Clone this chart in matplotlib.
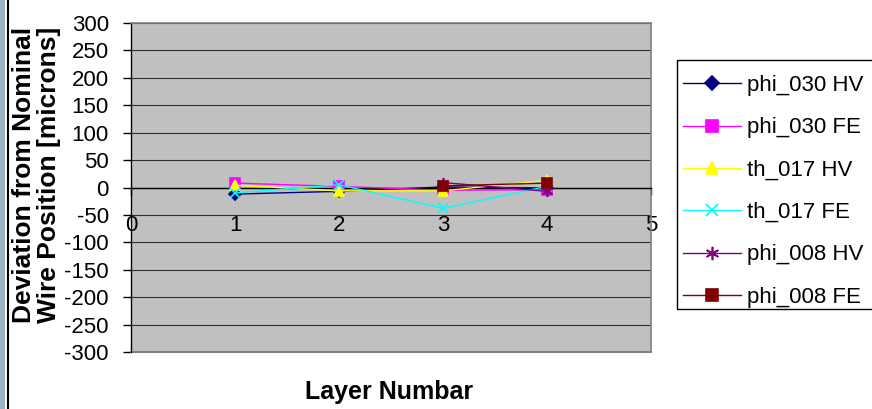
import numpy as np
import matplotlib
matplotlib.use("Agg")
import matplotlib.pyplot as plt
from matplotlib.patches import Rectangle
from matplotlib.lines import Line2D

plt.rcParams['font.family'] = ['Liberation Sans', 'DejaVu Sans']

# Layer numbers and wire deviations (microns)
layers = [1, 2, 3, 4]
phi_030_hv = [-12, -7, 1, -1]
phi_030_fe = [8, 2, -5, -4]
th_017_hv = [4, -6, -6, 13]
th_017_fe = [-10, 5, -38, 2]
phi_008_hv = [np.nan, np.nan, 9, -7]
phi_008_fe = [np.nan, np.nan, 3, 8]

series_names = ["phi_030 HV", "phi_030 FE", "th_017 HV",
                "th_017 FE", "phi_008 HV", "phi_008 FE"]
series_values = [phi_030_hv, phi_030_fe, th_017_hv,
                 th_017_fe, phi_008_hv, phi_008_fe]
series_colors = ["#000080", "#FF00FF", "#FFFF00",
                 "#00FFFF", "#800080", "#800000"]
series_markers = ["D", "s", "^", "x", (6, 2, 0), "s"]
series_msize = [6, 7, 7, 7, 8, 7]

x_ticks = [0, 1, 2, 3, 4, 5]
y_ticks = list(range(-300, 301, 50))

W, H = 872, 409
fig = plt.figure(figsize=(W / 100, H / 100), dpi=100)
fig.patch.set_facecolor("white")

ax = fig.add_axes([131 / W, 1 - 352.3 / H, 520 / W, 329.6 / H])
ax.set_facecolor("#C0C0C0")
ax.set_xlim(0, 5)
ax.set_ylim(-300, 300)

for yv in y_ticks:
    ax.axhline(yv, color="#303030", lw=0.8, zorder=1)

for name, vals, col, mk, ms in zip(series_names, series_values, series_colors,
                                   series_markers, series_msize):
    ax.plot(layers, vals, color=col, lw=1.0, marker=mk, markersize=ms,
            markerfacecolor=col, markeredgecolor=col, markeredgewidth=1.2,
            label=name, zorder=3)

# Plot-area frame and axes
for side in ["top", "right"]:
    ax.spines[side].set_color("#808080")
    ax.spines[side].set_linewidth(1.2)
ax.spines["left"].set_color("black")
ax.spines["left"].set_linewidth(1.0)
ax.spines["bottom"].set_position(("data", 0))
ax.spines["bottom"].set_color("black")
ax.spines["bottom"].set_linewidth(1.0)
ax.axhline(-300, color="#808080", lw=1.5, clip_on=False, zorder=2)

ax.set_xticks(x_ticks)
ax.set_xticklabels([str(v) for v in x_ticks])
ax.set_yticks(y_ticks)
ax.set_yticklabels([str(v) for v in y_ticks])
ax.tick_params(axis="x", direction="out", length=5, width=1, pad=15,
               labelsize=16, colors="black")
ax.tick_params(axis="y", direction="out", length=6, width=1, pad=10,
               labelsize=16, colors="black")

fig.text(36.5 / W, 1 - 175 / H, "Deviation from Nominal\nWire Position [microns]",
         rotation=90, ha="center", va="center", multialignment="center",
         fontsize=19, fontweight="bold", linespacing=1.03)
fig.text(389 / W, 1 - 392 / H, "Layer Numbar", ha="center", va="center",
         fontsize=18, fontweight="bold")

# Legend entries, with a separately drawn box
handles, labels = ax.get_legend_handles_labels()
leg = fig.legend(handles, labels, loc="upper left",
                 bbox_to_anchor=(683 / W, 1 - 75 / H),
                 bbox_transform=fig.transFigure, borderaxespad=0,
                 fontsize=16, frameon=False,
                 handlelength=2.6, handletextpad=0.3, labelspacing=0.96,
                 borderpad=0, markerscale=1.2)
fig.patches.append(Rectangle((677 / W, 1 - 309 / H), 300 / W, 249 / H,
                             transform=fig.transFigure, facecolor="white",
                             edgecolor="black", lw=1.0, zorder=0))

# Left window strip
fig.patches.append(Rectangle((0, 0), 5 / W, 1, transform=fig.transFigure,
                             facecolor="#9DB2C6", edgecolor="none"))
fig.add_artist(Line2D([7.5 / W, 7.5 / W], [0, 1], transform=fig.transFigure,
                      color="black", lw=1.5))

fig.savefig("out.png", dpi=100)
